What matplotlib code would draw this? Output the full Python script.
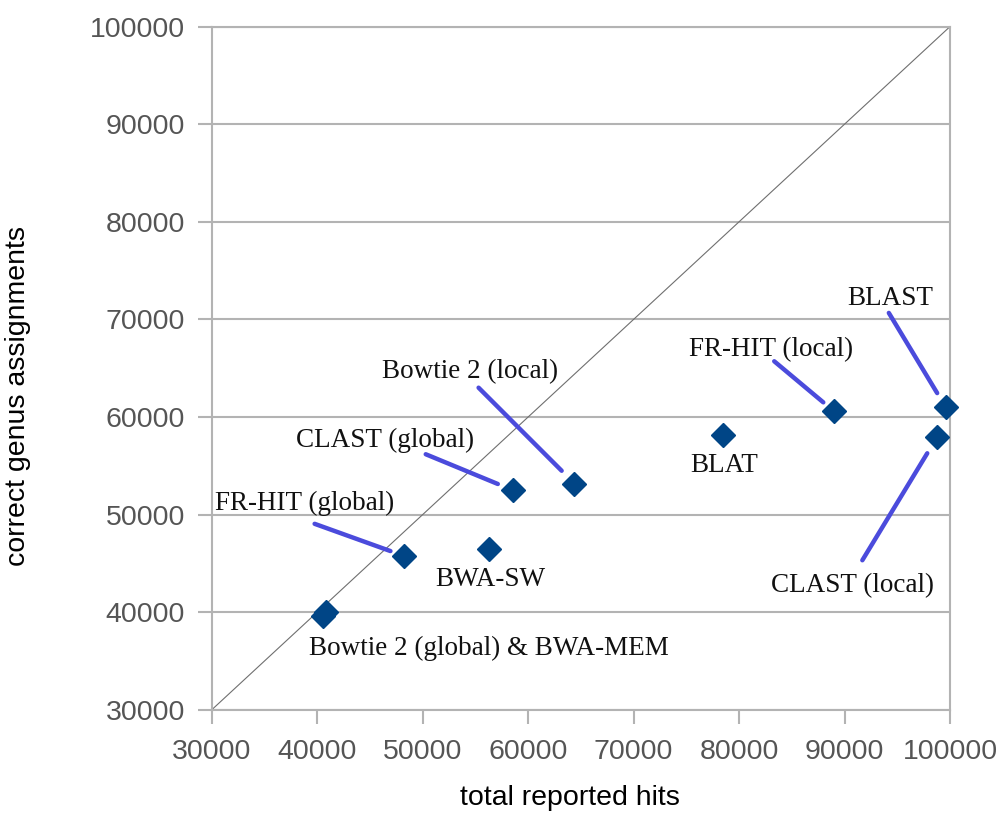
import matplotlib
matplotlib.use("Agg")
import matplotlib.pyplot as plt

# aligner results: total hits reported vs. hits with the correct genus
tools = ["Bowtie 2 (global)", "BWA-MEM", "FR-HIT (global)", "BWA-SW",
         "CLAST (global)", "Bowtie 2 (local)", "BLAT", "FR-HIT (local)",
         "CLAST (local)", "BLAST"]
total_hits = [40600, 40900, 48200, 56300, 58600, 64400, 78500, 89000, 98800, 99600]
correct_genus = [39600, 40000, 45800, 46500, 52500, 53200, 58200, 60600, 58000, 61000]

# label text, index of the point it belongs to, text offset (pt), leader start (pt), leader gap (pt)
labels = [
    ("Bowtie 2 (global) & BWA-MEM", 1, (117, -31), None, 0),
    ("FR-HIT (global)", 2, (-71, 33), (-64, 23), 10),
    ("BWA-SW", 3, (1, -27), None, 0),
    ("CLAST (global)", 4, (-92, 31), (-63, 26), 12),
    ("Bowtie 2 (local)", 5, (-75, 76), (-69, 69), 13),
    ("BLAT", 6, (1, -27), None, 0),
    ("FR-HIT (local)", 7, (-45, 40), (-43, 36), 10),
    ("CLAST (local)", 8, (-61, -112), (-54, -89), 14),
    ("BLAST", 9, (-40, 74), (-41, 68), 12),
]

lo, hi = 30000, 100000
grid_col = "#b3b3b3"

fig = plt.figure(figsize=(10, 8.18), dpi=100)
ax = fig.add_axes([0.2115, 0.132, 0.7385, 0.8355])

ax.plot([lo, hi], [lo, hi], color="#6f6f6f", lw=0.8, zorder=2)
ax.plot(total_hits, correct_genus, linestyle="none", marker="D", ms=12.5,
        color="#004586", zorder=4, clip_on=False)

for text, i, txt_off, line_off, gap in labels:
    pt = (total_hits[i], correct_genus[i])
    ax.annotate(text, xy=pt, xytext=txt_off, textcoords="offset points",
                ha="center", va="baseline", fontsize=19.5,
                family="Liberation Serif", color="#111111", zorder=5)
    if line_off is not None:
        ax.annotate("", xy=pt, xytext=line_off, textcoords="offset points",
                    arrowprops=dict(arrowstyle="-", color="#4b4bdc", lw=3.2,
                                    shrinkA=0, shrinkB=gap),
                    zorder=3)

ax.set_xlim(lo, hi)
ax.set_ylim(lo, hi)
ticks = list(range(lo, hi + 1, 10000))
ax.set_xticks(ticks)
ax.set_yticks(ticks)
ax.yaxis.grid(True, color=grid_col, lw=1.5)
ax.set_axisbelow(True)
for side in ["left", "right", "top", "bottom"]:
    ax.spines[side].set_color(grid_col)
    ax.spines[side].set_linewidth(1.5)
ax.tick_params(axis="both", direction="out", length=10, width=1.5,
               color=grid_col, labelsize=20.5, labelcolor="#555555")
ax.tick_params(axis="x", pad=11)
ax.tick_params(axis="y", pad=9)
for lab in ax.get_xticklabels() + ax.get_yticklabels():
    lab.set_family("Liberation Sans")

ax.set_xlabel("total reported hits", fontsize=20.5, family="Liberation Sans")
ax.set_ylabel("correct genus assignments", fontsize=20.5, family="Liberation Sans")
ax.xaxis.set_label_coords(0.486, -0.11)
ax.yaxis.set_label_coords(-0.245, 0.46)

fig.savefig("out.png", dpi=100)
